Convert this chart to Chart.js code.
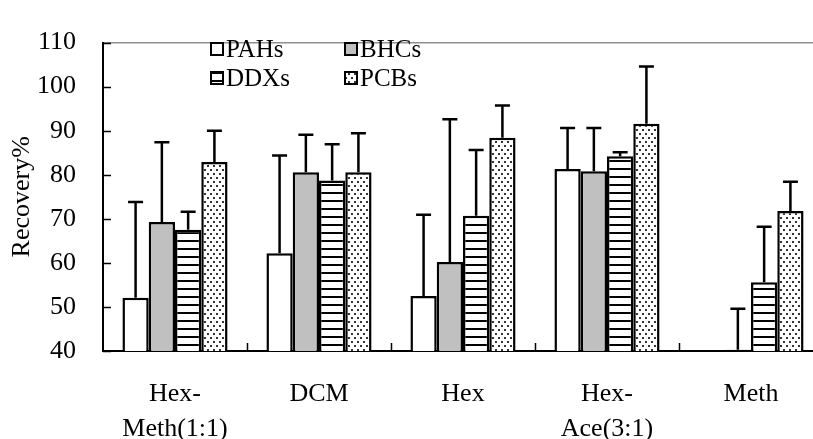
<!DOCTYPE html>
<html>
<head>
<meta charset="utf-8">
<script src="https://cdn.jsdelivr.net/npm/chart.js@4/dist/chart.umd.min.js"></script>
<style>
  html, body { margin: 0; padding: 0; background: #fff; overflow: hidden; }
  #wrap { width: 813px; height: 439px; overflow: hidden; position: relative; }
  canvas { display: block; }
</style>
</head>
<body>
<div id="wrap"><canvas id="c" width="826" height="439" style="width:826px;height:439px"></canvas></div>
<script>
// Extraction solvents
const categories = [["Hex-", "Meth(1:1)"], "DCM", "Hex", ["Hex-", "Ace(3:1)"], "Meth"];
const seriesNames = ["PAHs", "BHCs", "DDXs", "PCBs"];

// Mean recovery (%) per compound class
const pahs = [52.1, 62.2, 52.5, 81.3, null];
const bhcs = [69.3, 80.6, 60.2, 80.8, 40.3];
const ddxs = [67.5, 78.7, 70.7, 84.2, 55.6];
const pcbs = [82.9, 80.6, 88.4, 91.6, 71.8];

// Standard deviations (upper error bars)
const pahsSd = [21.7, 22.2, 18.4, 9.3, null];
const bhcsSd = [18.1, 8.5, 32.4, 9.8, 9.3];
const ddxsSd = [4.1, 8.2, 14.9, 0.9, 12.6];
const pcbsSd = [7.1, 8.8, 7.3, 13.0, 6.6];

const yTicks = [40, 50, 60, 70, 80, 90, 100, 110];

const FONT = '"Liberation Serif", "Times New Roman", serif';

function makePattern(w, h, draw) {
  const c = document.createElement('canvas');
  c.width = w; c.height = h;
  const g = c.getContext('2d');
  g.fillStyle = '#fff';
  g.fillRect(0, 0, w, h);
  draw(g);
  return document.getElementById('c').getContext('2d').createPattern(c, 'repeat');
}

const stripes = makePattern(8, 8, g => {
  g.fillStyle = '#000';
  g.fillRect(0, 0, 8, 2);
});
const dots = makePattern(6, 8, g => {
  g.fillStyle = '#333';
  g.fillRect(0, 1, 2, 2);
  g.fillRect(3, 5, 2, 2);
});

const fills = ['#ffffff', '#c0c0c0', stripes, dots];
const values = [pahs, bhcs, ddxs, pcbs];
const sds = [pahsSd, bhcsSd, ddxsSd, pcbsSd];

// Upper error bars with caps
const errorBars = {
  id: 'errorBars',
  afterDatasetsDraw(chart) {
    const ctx = chart.ctx;
    const y = chart.scales.y;
    ctx.save();
    ctx.strokeStyle = '#000';
    ctx.lineWidth = 2.5;
    chart.data.datasets.forEach((ds, di) => {
      const meta = chart.getDatasetMeta(di);
      meta.data.forEach((bar, i) => {
        const v = ds.data[i];
        const sd = sds[di][i];
        if (v == null || sd == null) return;
        const yTop = y.getPixelForValue(v + sd);
        const yBase = y.getPixelForValue(v);
        ctx.beginPath();
        ctx.moveTo(bar.x, yBase);
        ctx.lineTo(bar.x, yTop);
        ctx.moveTo(bar.x - 7.5, yTop);
        ctx.lineTo(bar.x + 7.5, yTop);
        ctx.stroke();
      });
    });
    ctx.restore();
  }
};

// Inward tick marks on both axes
const innerTicks = {
  id: 'innerTicks',
  afterDraw(chart) {
    const ctx = chart.ctx;
    const {x, y} = chart.scales;
    const area = chart.chartArea;
    ctx.save();
    ctx.strokeStyle = '#000';
    ctx.lineWidth = 1.5;
    ctx.beginPath();
    yTicks.forEach(t => {
      const py = Math.round(y.getPixelForValue(t)) + 0.5;
      ctx.moveTo(area.left, py);
      ctx.lineTo(area.left + 8, py);
    });
    for (let i = 1; i < categories.length; i++) {
      const px = Math.round((x.getPixelForTick(i - 1) + x.getPixelForTick(i)) / 2) + 0.5;
      ctx.moveTo(px, area.bottom);
      ctx.lineTo(px, area.bottom - 8);
    }
    ctx.stroke();
    ctx.restore();
  }
};

// Two-column legend inside the plot
const boxLegend = {
  id: 'boxLegend',
  afterDraw(chart) {
    const ctx = chart.ctx;
    const cols = [211, 345];
    const rows = [43, 72];
    ctx.save();
    ctx.font = '25px ' + FONT;
    ctx.textBaseline = 'middle';
    ctx.fillStyle = '#000';
    chart.data.datasets.forEach((ds, i) => {
      const bx = cols[i % 2];
      const by = rows[Math.floor(i / 2)];
      ctx.fillStyle = ds.backgroundColor;
      ctx.fillRect(bx, by, 12, 12);
      ctx.strokeStyle = '#000';
      ctx.lineWidth = 2;
      ctx.strokeRect(bx, by, 12, 12);
      ctx.fillStyle = '#000';
      ctx.fillText(ds.label, bx + 15, by + 7);
    });
    ctx.restore();
  }
};

new Chart(document.getElementById('c'), {
  type: 'bar',
  data: {
    labels: categories,
    datasets: seriesNames.map((name, i) => ({
      label: name,
      data: values[i],
      backgroundColor: fills[i],
      borderColor: '#000',
      borderWidth: 2.5,
      categoryPercentage: 0.73,
      barPercentage: 1.0
    }))
  },
  options: {
    responsive: false,
    devicePixelRatio: 1,
    animation: false,
    layout: { padding: { top: 22, right: 3, left: 0, bottom: 0 } },
    plugins: {
      legend: { display: false },
      tooltip: { enabled: false }
    },
    scales: {
      x: {
        grid: { display: false, drawTicks: false },
        border: { display: true, color: '#000', width: 2 },
        ticks: {
          color: '#000',
          font: { family: FONT, size: 26, lineHeight: 1.36 },
          padding: 25,
          maxRotation: 0,
          minRotation: 0,
          autoSkip: false
        },
        afterFit(scale) { scale.height = 88; }
      },
      y: {
        min: 40,
        max: 110,
        grid: {
          drawTicks: false,
          color: ctx => (ctx.tick && ctx.tick.value === 110) ? '#909090' : 'rgba(0,0,0,0)',
          lineWidth: 1.5
        },
        border: { display: true, color: '#000', width: 2 },
        afterBuildTicks(scale) { scale.ticks = yTicks.map(v => ({ value: v })); },
        ticks: {
          color: '#000',
          font: { family: FONT, size: 26 },
          padding: 27
        },
        title: {
          display: true,
          text: 'Recovery%',
          color: '#000',
          font: { family: FONT, size: 26 },
          padding: { top: 7, bottom: 0 }
        },
        afterFit(scale) { scale.width = 103; }
      }
    }
  },
  plugins: [errorBars, innerTicks, boxLegend]
});
</script>
</body>
</html>
